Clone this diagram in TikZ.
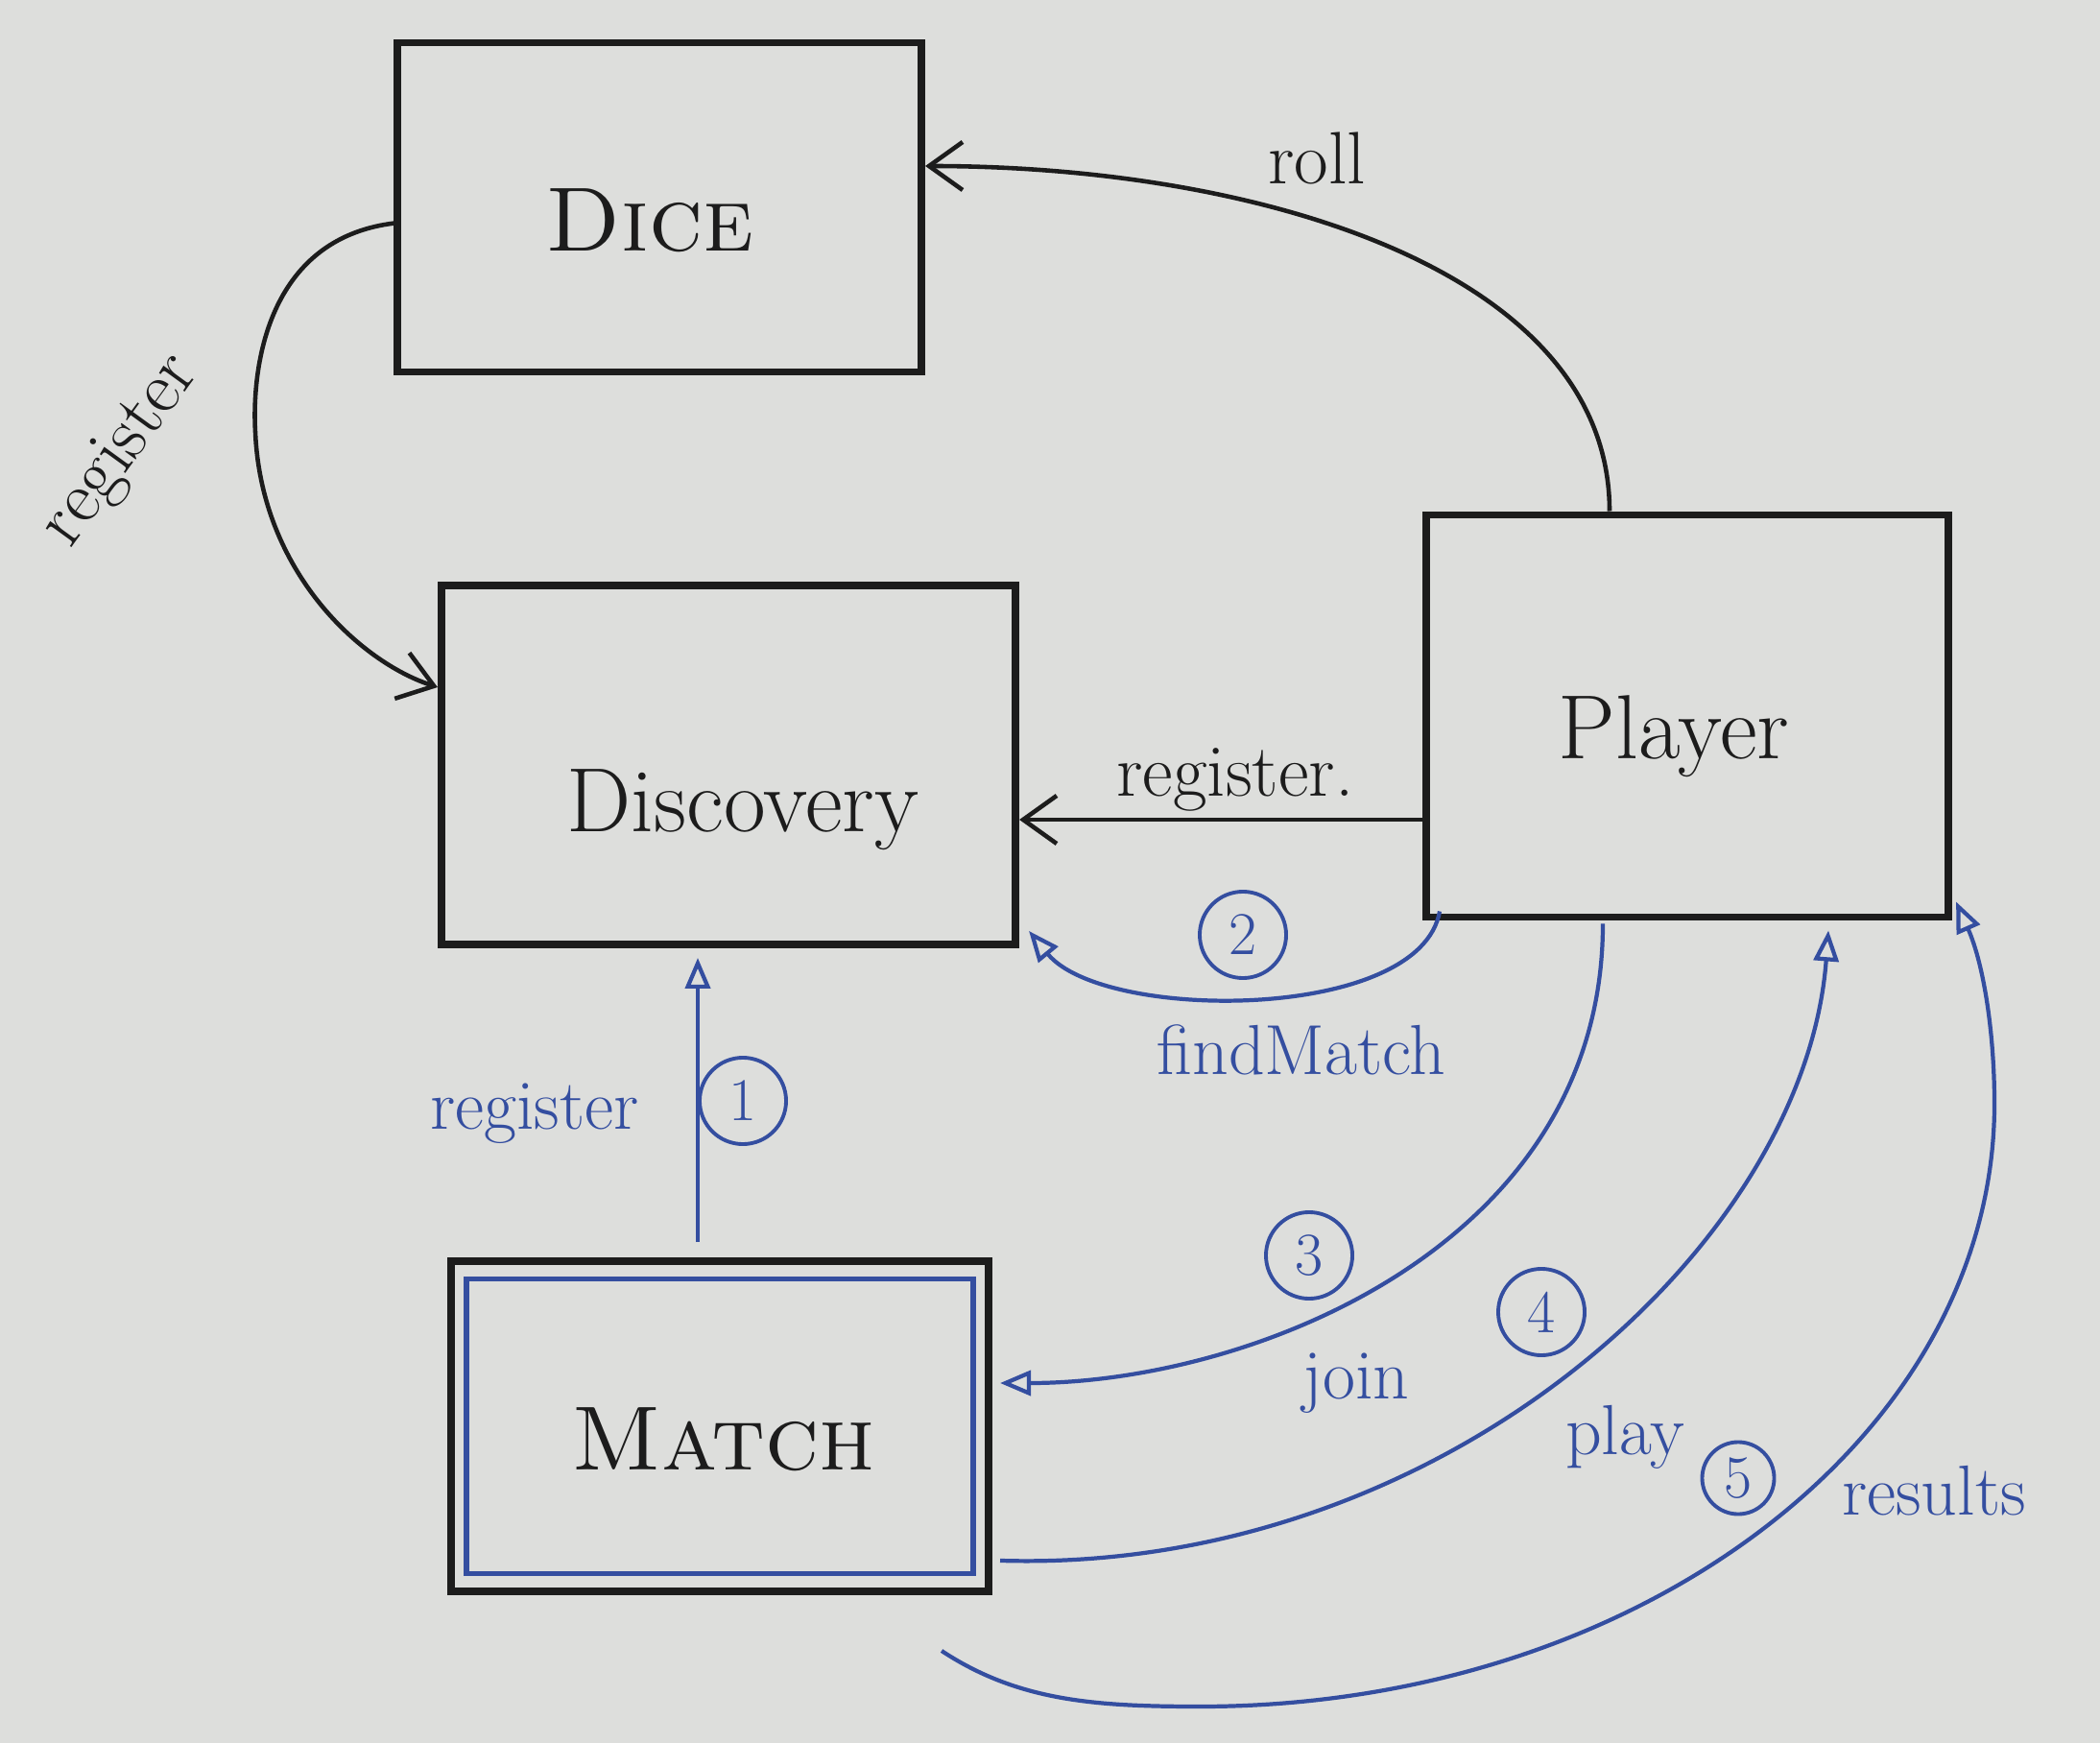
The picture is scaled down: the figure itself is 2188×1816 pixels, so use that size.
\documentclass[tikz,border=0pt]{standalone}
\usetikzlibrary{arrows.meta,calc}
\definecolor{board}{RGB}{221,222,220}
\definecolor{ink}{RGB}{28,28,28}
\definecolor{bink}{RGB}{52,78,160}
\begin{document}
\begin{tikzpicture}[x=0.01cm,y=-0.01cm,
 box/.style={draw=ink, line width=2.2pt, inner sep=0pt},
 boxtext/.style={text=ink, font=\fontsize{27}{32}\selectfont, inner sep=0pt},
 lbl/.style={text=ink, font=\fontsize{22}{26}\selectfont, inner sep=0pt},
 blbl/.style={text=bink, font=\fontsize{21}{25}\selectfont, inner sep=0pt},
 num/.style={draw=bink, circle, line width=1.1pt, text=bink, minimum size=0.9cm, inner sep=0pt, font=\fontsize{18}{20}\selectfont},
 blk/.style={draw=ink, line width=1.3pt, -{Straight Barb[length=0.35cm,width=0.5cm]}},
 blu/.style={draw=bink, line width=1.2pt, -{Triangle[open,length=0.32cm,width=0.26cm]}},
]
\fill[board] (0,0) rectangle (2188,1816);
\useasboundingbox (0,0) rectangle (2188,1816);

% boxes
\node[box, minimum width=5.46cm, minimum height=3.43cm] (dice) at (687,216) {};
\node[boxtext] (dicet) at (677,230) {\textsc{Dice}};
\node[box, minimum width=5.98cm, minimum height=3.74cm] (disc) at (759,797) {};
\node[boxtext] (disct) at (774,844) {Discovery};
\node[box, minimum width=5.44cm, minimum height=4.19cm] (player) at (1758,746) {};
\node[boxtext] (playert) at (1744,767) {Player};
\node[box, minimum width=5.60cm, minimum height=3.44cm] (mo) at (750,1486) {};
\node[draw=bink, line width=1.6pt, minimum width=5.28cm, minimum height=3.07cm, inner sep=0pt] (mi) at (750,1486) {};
\node[boxtext] (mt) at (754,1500) {\textsc{Match}};

% black connectors
\draw[blk] ($(dice.west)+(6,16)$) .. controls (280,245) and (262,380) .. (266,450) .. controls (272,595) and (375,690) .. ($(disc.west)+(0,-81)$);
\node[lbl, rotate=54] (lreg0) at (127,470) {register};
\draw[blk] ($(player.north)+(-81,0)$) .. controls (1677,282) and (1311,173) .. ($(dice.east)+(0,-43)$);
\node[lbl] (lroll) at (1372,165) {roll};
\draw[blk] ($(player.west)+(0,108)$) -- ($(disc.east)+(0,57)$);
\node[lbl] (lreg1) at (1287,812) {register.};

% blue connectors
\draw[blu] ($(mo.north)+(-23,-16)$) -- ($(disc.south)+(-32,10)$);
\node[num] (n1) at (774,1147) {1};
\node[blbl] (lreg2) at (557,1160) {register};

\draw[blu] ($(player.south west)+(18,-10)$) .. controls (1480,1065) and (1150,1065) .. ($(disc.south east)+(10,-18)$);
\node[num] (n2) at (1295,974) {2};
\node[blbl] (lfind) at (1356,1094) {findMatch};

\draw[blu] ($(player.south)+(-88,3)$) .. controls (1670,1300) and (1300,1441) .. ($(mo.east)+(8,-45)$);
\node[num] (n3) at (1364,1308) {3};
\node[blbl] (ljoin) at (1413,1441) {join};

\draw[blu] ($(mo.south east)+(8,-36)$) .. controls (1500,1640) and (1880,1300) .. ($(player.south east)+(-129,10)$);
\node[num] (n4) at (1606,1367) {4};
\node[blbl] (lplay) at (1693,1497) {play};

\coordinate (rs) at ($(mo.south east)+(-53,58)$);
\coordinate (re) at ($(player.south east)+(4,-20)$);
\draw[blu] (rs) .. controls (1060,1772) and (1140,1778) .. (1250,1778)
  .. controls (1707,1778) and (2078,1497) .. (2078,1150)
  .. controls (2078,1077) and (2067,1005) .. (re);
\node[num, minimum size=0.75cm] (n5) at (1811,1540) {5};
\node[blbl] (lres) at (2015,1553) {results};
\end{tikzpicture}
\end{document}
